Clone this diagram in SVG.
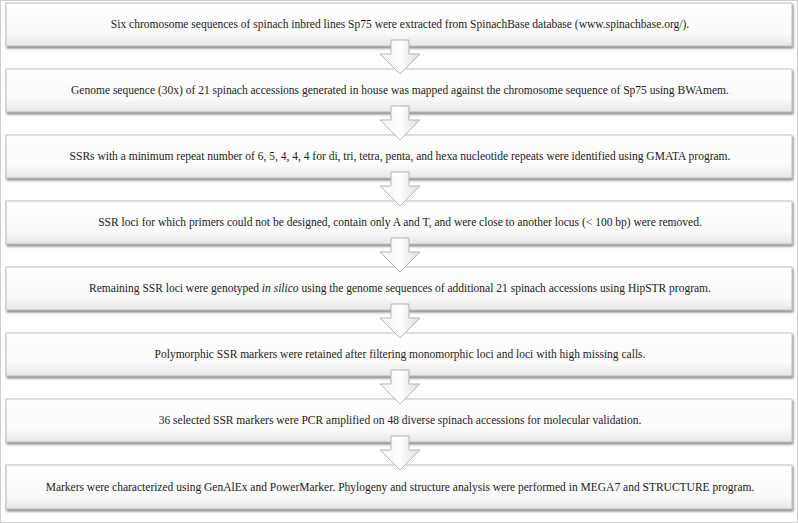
<svg xmlns="http://www.w3.org/2000/svg" width="798" height="523" viewBox="0 0 798 523">
<defs>
<linearGradient id="g" x1="0" y1="0" x2="0" y2="1"><stop offset="0" stop-color="#ffffff"/><stop offset="0.7" stop-color="#fafafa"/><stop offset="1" stop-color="#e6e6e6"/></linearGradient>
<linearGradient id="ag" x1="0" y1="0" x2="1" y2="0"><stop offset="0" stop-color="#f4f4f4"/><stop offset="0.5" stop-color="#ffffff"/><stop offset="1" stop-color="#dcdcdc"/></linearGradient>
<filter id="sh" x="-2%" y="-20%" width="104%" height="150%"><feDropShadow dx="1" dy="2" stdDeviation="1" flood-color="#555" flood-opacity="0.7"/></filter>
</defs>
<style>
.b{fill:url(#g);stroke:#bdbdbd;stroke-width:1;filter:url(#sh)}
text{font-family:'Liberation Serif','Times New Roman',serif;font-size:11.5px;fill:#222;text-anchor:middle}
.a{fill:url(#ag);stroke:#b5b5b5;stroke-width:1}
</style>
<rect x="0.5" y="0.5" width="797" height="522" fill="#fff" stroke="#d0d0d0"/>
<g id="n1"><rect class="b" x="6" y="3" width="786" height="43"/><text x="400" y="28">Six chromosome  sequences of spinach inbred lines  Sp75 were extracted from SpinachBase database (www.spinachbase.org/).</text></g>
<g id="n2"><rect class="b" x="6" y="69" width="786" height="43"/><text x="400" y="94">Genome sequence (30x) of 21 spinach accessions generated in house was mapped against the chromosome sequence of Sp75 using BWAmem.</text></g>
<g id="n3"><rect class="b" x="6" y="135" width="786" height="43"/><text x="400" y="160">SSRs with a minimum repeat number of 6, 5, 4, 4, 4 for di, tri, tetra, penta, and hexa nucleotide repeats were identified using GMATA program.</text></g>
<g id="n4"><rect class="b" x="6" y="201" width="786" height="43"/><text x="400" y="226">SSR loci for which primers could not be designed, contain only A and T, and were close to another locus (&lt; 100 bp) were removed.</text></g>
<g id="n5"><rect class="b" x="6" y="267" width="786" height="43"/><text x="400" y="292">Remaining SSR loci were genotyped <tspan font-style="italic">in silico</tspan> using the genome sequences of additional 21 spinach accessions using HipSTR program.</text></g>
<g id="n6"><rect class="b" x="6" y="333" width="786" height="43"/><text x="400" y="358">Polymorphic SSR markers were retained after filtering monomorphic loci and loci with high missing calls.</text></g>
<g id="n7"><rect class="b" x="6" y="399" width="786" height="43"/><text x="400" y="424">36 selected SSR markers were PCR amplified on 48 diverse spinach accessions for molecular validation.</text></g>
<g id="n8"><rect class="b" x="6" y="465" width="786" height="44"/><text x="400" y="491">Markers were characterized using GenAlEx and PowerMarker. Phylogeny and structure analysis were performed in MEGA7 and STRUCTURE program.</text></g>
<g id="connectors">
<path class="a" d="M391,40 h18 v14 h11 l-20,20 l-20,-20 h11 z"/>
<path class="a" d="M391,106 h18 v14 h11 l-20,20 l-20,-20 h11 z"/>
<path class="a" d="M391,172 h18 v14 h11 l-20,20 l-20,-20 h11 z"/>
<path class="a" d="M391,238 h18 v14 h11 l-20,20 l-20,-20 h11 z"/>
<path class="a" d="M391,304 h18 v14 h11 l-20,20 l-20,-20 h11 z"/>
<path class="a" d="M391,370 h18 v14 h11 l-20,20 l-20,-20 h11 z"/>
<path class="a" d="M391,436 h18 v14 h11 l-20,20 l-20,-20 h11 z"/>
</g>
</svg>
